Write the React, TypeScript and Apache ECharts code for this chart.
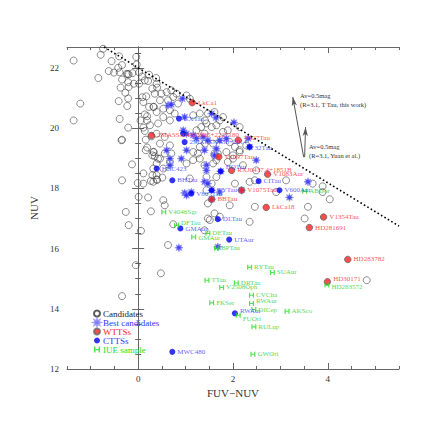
import React, { useEffect, useRef } from 'react';
import * as echarts from 'echarts';

const xMajorTicks = [0, 2, 4];
const xMinorTicks = [-1.5, -1, -0.5, 0, 0.5, 1, 1.5, 2, 2.5, 3, 3.5, 4, 4.5, 5, 5.5];
const yMajorTicks = [12, 14, 16, 18, 20, 22];

const candidates: number[][] = [
  [-1.36, 22.25], [-0.74, 22.64], [-0.79, 22.44], [-0.56, 22.23], [-0.40, 22.39], [-0.04, 22.37], [-0.03, 22.12],
  [-0.34, 22.10], [-0.42, 22.01], [-0.51, 21.85], [-0.62, 21.90], [-0.39, 21.86], [-0.24, 21.81], [-0.22, 21.80],
  [-0.20, 21.79], [-0.12, 21.83], [0.02, 21.86], [0.08, 21.72], [0.23, 21.78], [0.38, 21.67], [-0.84, 21.67],
  [-0.34, 21.62], [-0.21, 21.53], [-0.09, 21.48], [0.02, 21.48], [0.14, 21.59], [0.21, 21.57], [-0.37, 21.35],
  [-0.20, 21.37], [-0.27, 21.18], [-0.21, 20.99], [-0.41, 20.90], [0.09, 21.03], [0.17, 21.06], [0.11, 20.87],
  [0.35, 21.15], [0.39, 21.48], [-0.23, 20.74], [0.23, 20.71], [0.33, 20.71], [-1.22, 20.82], [0.14, 20.46],
  [0.19, 20.40], [-0.39, 20.31], [0.05, 20.26], [0.19, 20.26], [0.25, 20.10], [0.11, 20.02], [-0.21, 20.02],
  [-1.36, 20.26], [0.14, 19.91], [-0.34, 19.62], [0.16, 19.62], [0.19, 19.36], [0.28, 19.73],
  [0.30, 21.32], [0.40, 21.35], [0.49, 21.15], [0.60, 21.20], [0.70, 21.26], [0.46, 20.93], [0.63, 20.93],
  [0.74, 21.04], [0.81, 21.15], [1.02, 21.09], [1.09, 20.98], [0.84, 20.82], [0.32, 20.71], [0.39, 20.54],
  [0.53, 20.65], [0.67, 20.60], [0.77, 20.49], [0.53, 20.37], [0.67, 20.26], [0.42, 20.16], [1.16, 20.43],
  [1.30, 20.49], [1.41, 20.26], [1.47, 20.49], [1.79, 20.37], [1.23, 19.93], [1.33, 20.04], [1.89, 19.93],
  [2.14, 20.04], [0.39, 19.82], [0.56, 19.71], [0.46, 19.49], [0.67, 19.43], [1.30, 19.38], [1.41, 19.49],
  [1.93, 19.54], [2.04, 19.38], [2.14, 19.27], [0.32, 19.21], [0.70, 19.16], [1.16, 19.21], [1.61, 19.10],
  [2.28, 19.43],
  [-0.35, 19.60], [0.16, 19.27], [0.33, 19.21], [0.35, 19.07], [0.42, 18.99], [-0.13, 18.80], [0.32, 18.66],
  [0.11, 18.50], [0.30, 18.44], [-0.34, 18.27], [-0.01, 18.18], [0.11, 18.16], [0.27, 18.25], [0.39, 18.30],
  [0.40, 18.28], [0.01, 17.72], [0.21, 17.70], [-0.26, 17.22], [0.27, 17.24], [-0.20, 16.78], [0.06, 16.59],
  [0.30, 19.10], [0.46, 18.99], [0.56, 19.16], [0.39, 18.83], [0.53, 18.66], [0.39, 18.44], [0.32, 18.22],
  [0.51, 18.36], [0.67, 18.88], [1.02, 18.83], [1.16, 18.94], [1.30, 18.99], [1.26, 19.16], [1.40, 18.77],
  [1.58, 18.83], [1.65, 18.94], [1.89, 18.88], [2.00, 18.99], [1.09, 18.33], [2.04, 18.16], [2.35, 18.22],
  [0.53, 17.61], [0.56, 17.44], [1.47, 17.50], [1.93, 17.44], [1.61, 17.17], [0.74, 16.81], [1.51, 16.95],
  [1.40, 16.61], [2.35, 16.89],
  [1.61, 20.54], [1.44, 20.16], [1.55, 20.04], [1.65, 20.10], [1.72, 20.26], [1.79, 19.88], [1.40, 19.82],
  [1.58, 19.49], [1.61, 19.16], [1.68, 19.16], [1.86, 19.21], [2.14, 19.21], [2.00, 19.10], [2.21, 18.77],
  [2.49, 18.60], [2.46, 18.27], [3.12, 18.27], [2.91, 17.88], [3.68, 18.16], [3.89, 18.07], [3.89, 17.88],
  [4.04, 17.64], [3.58, 17.39], [3.51, 17.00], [1.44, 18.38], [1.65, 18.38], [1.55, 18.16], [1.44, 17.94],
  [2.46, 17.39], [1.47, 17.00], [1.72, 17.06],
  [-0.05, 15.45], [0.48, 15.18], [-0.34, 14.42], [0.63, 16.12], [4.82, 14.95],
];

const bestCandidates: number[][] = [
  [0.63, 20.76], [0.70, 20.79], [0.93, 20.98], [1.55, 20.49], [1.64, 20.35], [2.02, 20.19], [0.98, 20.37],
  [0.95, 19.93], [1.02, 19.82], [1.16, 19.77], [1.23, 19.66], [1.37, 19.71], [1.47, 19.60], [1.72, 19.60],
  [1.86, 19.66], [0.60, 19.27], [0.67, 18.99], [1.02, 19.27], [1.40, 19.27], [1.65, 19.32], [2.32, 19.66],
  [0.67, 18.77], [0.91, 18.99], [1.44, 18.77], [1.61, 19.10], [2.49, 18.94], [1.44, 18.60], [1.40, 18.22],
  [1.47, 18.16], [0.98, 17.85], [1.12, 17.88], [1.02, 17.77], [1.55, 17.94], [1.72, 17.88], [2.18, 17.94],
  [3.19, 17.70], [3.58, 18.22], [0.86, 16.03], [1.68, 16.06], [1.55, 17.64], [2.35, 19.38], [1.74, 18.57],
];

const wttsNames = [
  'LkCa1', '2MASSJ04333905+2227180', 'V827Tau', 'V1097Tau', 'RXJ0437.4+1851B', 'V1083Aur', 'V1075Tau',
  'BBTau', 'LkCa18', 'V1354Tau', 'HD281691', 'HD283782', 'HD30171',
];
const wttsPoints: number[][] = [
  [1.14, 20.85], [0.28, 19.76], [2.11, 19.60], [1.70, 19.05], [1.97, 18.60], [2.73, 18.47], [2.18, 17.94],
  [1.55, 17.64], [2.70, 17.37], [3.91, 17.05], [3.61, 16.70], [4.42, 15.64], [3.99, 14.90],
];

const cttsNames = [
  'CXTau', '', '2MASSJ0438+2014', '32Tau', 'HBC423', 'BHTau', 'HQTau', 'V807Tau', 'VYTau', 'CITau',
  'V600Aur', 'DLTau', 'GMAur', 'UTAur', 'RWAur', 'MWC480',
];
const cttsPoints: number[][] = [
  [0.86, 20.32], [0.95, 19.82], [0.98, 19.54], [2.35, 19.38], [0.39, 18.66], [0.72, 18.27], [1.74, 18.57],
  [1.12, 17.83], [1.55, 17.94], [2.54, 18.24], [2.98, 17.94], [1.68, 16.98], [0.89, 16.67], [1.92, 16.30],
  [2.04, 13.85], [0.72, 12.57],
];

const iueNames = [
  'V4046Sgr', 'DFTau', 'GMAur', 'DETau', 'BPTau', 'RYTau', 'SUAur', 'TTau', 'DRTau', 'V2508Oph', 'CVCha',
  'FKSer', 'RWAur', 'DICep', 'AKSco', 'FUOri', 'RULup', 'GWOri', 'HD283572', 'ABDor',
];
const iuePoints: number[][] = [
  [0.54, 17.22], [0.81, 16.78], [1.17, 16.39], [1.47, 16.51], [1.65, 16.01], [2.35, 15.38], [2.83, 15.21],
  [1.45, 14.95], [2.07, 14.86], [1.76, 14.71], [2.39, 14.45], [1.55, 14.20], [2.39, 14.18], [2.44, 13.98],
  [3.14, 13.92], [2.11, 13.79], [2.44, 13.40], [2.42, 12.49], [3.98, 14.79], [3.51, 17.91],
];

const limitLine: number[][] = [[-0.72, 22.7], [5.5, 16.75]];
const arrowThisWork: number[][] = [[3.49, 19.04], [3.26, 21.04]];
const arrowYuan: number[][] = [[3.51, 19.04], [3.53, 20.04]];

const STAR =
  'path://M5,0 L2.2,0.9 L3.54,3.54 L0.9,2.2 L0,5 L-0.9,2.2 L-3.54,3.54 L-2.2,0.9 L-5,0 L-2.2,-0.9 L-3.54,-3.54 L-0.9,-2.2 L0,-5 L0.9,-2.2 L3.54,-3.54 L2.2,-0.9 Z';
const HASH = 'path://M0,0h1.2v5h-1.2z M3.8,0h1.2v5h-1.2z M0,2h5v1.1h-5z';

const FONT = 'Liberation Serif';

export default function App() {
  const ref = useRef<HTMLDivElement>(null);
  useEffect(() => {
    const chart = echarts.init(ref.current!, null, { renderer: 'svg' });
    const lbl = (color: string) => ({
      show: true,
      position: 'right',
      distance: 2,
      formatter: '{b}',
      color,
      fontSize: 7,
      fontFamily: FONT,
    });
    const labelOffsets: Record<string, number[]> = {
      HD30171: [0, -3],
      HD283572: [0, 2],
      RWAur: [0, -2],
      FUOri: [0, 4],
      DICep: [0, 1],
      '32Tau': [0, 1],
      V827Tau: [0, -2],
      DFTau: [0, -2],
      GMAur: [0, 1],
      HQTau: [0, -4],
    };
    const items = (names: string[], pts: number[][]) =>
      pts.map((p, i) => {
        const n = names[i];
        const off = labelOffsets[n];
        return off ? { name: n, value: p, label: { offset: off } } : { name: n, value: p };
      });
    const axisLineStyle = { color: '#666', width: 1 };
    const xBase = { type: 'value', min: -1.5, max: 5.5, splitLine: { show: false } };
    const yBase = { type: 'value', min: 12, max: 22.7, splitLine: { show: false } };
    chart.setOption({
      animation: false,
      textStyle: { fontFamily: FONT },
      grid: { left: 67, top: 47, right: 37, bottom: 67 },
      xAxis: [
        {
          ...xBase,
          position: 'bottom',
          interval: 0.5,
          axisLine: { show: true, lineStyle: axisLineStyle },
          axisTick: { show: true, inside: true, length: 3, lineStyle: axisLineStyle },
          axisLabel: {
            formatter: (v: number) => (xMajorTicks.includes(v) ? String(v) : ''),
            color: '#333',
            fontSize: 9,
            fontFamily: FONT,
            margin: 5,
          },
          name: 'FUV\u2212NUV',
          nameLocation: 'middle',
          nameGap: 17,
          nameTextStyle: { color: '#333', fontSize: 11, fontFamily: FONT },
        },
        {
          ...xBase,
          position: 'bottom',
          axisLine: { show: false },
          axisTick: { show: true, inside: true, length: 6, customValues: xMajorTicks, lineStyle: axisLineStyle },
          axisLabel: { show: false },
        },
        {
          ...xBase,
          position: 'top',
          interval: 0.5,
          axisLine: { show: true, lineStyle: axisLineStyle },
          axisTick: { show: true, inside: true, length: 3, customValues: xMinorTicks, lineStyle: axisLineStyle },
          axisLabel: { show: false },
        },
        {
          ...xBase,
          position: 'top',
          axisLine: { show: false },
          axisTick: { show: true, inside: true, length: 6, customValues: xMajorTicks, lineStyle: axisLineStyle },
          axisLabel: { show: false },
        },
      ],
      yAxis: [
        {
          ...yBase,
          position: 'left',
          interval: 0.5,
          axisLine: { show: true, lineStyle: axisLineStyle },
          axisTick: { show: true, inside: true, length: 3, lineStyle: axisLineStyle },
          axisLabel: {
            formatter: (v: number) => (yMajorTicks.includes(v) ? String(v) : ''),
            color: '#333',
            fontSize: 9,
            fontFamily: FONT,
            margin: 8,
          },
          name: 'NUV',
          nameLocation: 'middle',
          nameGap: 23,
          nameTextStyle: { color: '#333', fontSize: 11, fontFamily: FONT },
        },
        {
          ...yBase,
          position: 'left',
          interval: 2,
          axisLine: { show: false },
          axisTick: { show: true, inside: true, length: 6, lineStyle: axisLineStyle },
          axisLabel: { show: false },
        },
        {
          ...yBase,
          position: 'right',
          interval: 0.5,
          axisLine: { show: true, lineStyle: axisLineStyle },
          axisTick: { show: true, inside: true, length: 3, lineStyle: axisLineStyle },
          axisLabel: { show: false },
        },
        {
          ...yBase,
          position: 'right',
          interval: 2,
          axisLine: { show: false },
          axisTick: { show: true, inside: true, length: 6, lineStyle: axisLineStyle },
          axisLabel: { show: false },
        },
      ],
      legend: {
        orient: 'vertical',
        left: 88,
        top: 304,
        itemGap: 0,
        itemWidth: 6,
        itemHeight: 6,
        textStyle: { fontSize: 9, fontFamily: FONT, lineHeight: 9, padding: [0, 0, 0, -2] },
        data: [
          { name: 'Candidates', textStyle: { color: '#222' } },
          { name: 'Best candidates', textStyle: { color: '#3333ff' } },
          { name: 'WTTSs', textStyle: { color: '#ff2222' } },
          { name: 'CTTSs', textStyle: { color: '#3333ff' } },
          { name: 'IUE sample', textStyle: { color: '#22dd22' } },
        ],
      },
      series: [
        {
          name: 'Candidates',
          type: 'scatter',
          symbol: 'circle',
          symbolSize: 7,
          itemStyle: { color: 'rgba(0,0,0,0)', borderColor: '#333', borderWidth: 0.7 },
          data: candidates,
          markLine: {
            silent: true,
            animation: false,
            label: { show: false },
            data: [
              [
                { coord: limitLine[0], symbol: 'none', lineStyle: { color: '#000', width: 1.6, type: [1.6, 2.4] } },
                { coord: limitLine[1], symbol: 'none' },
              ],
              [
                { coord: arrowThisWork[0], symbol: 'none', lineStyle: { color: '#555', width: 1, type: 'solid' } },
                { coord: arrowThisWork[1], symbol: 'arrow', symbolSize: [4, 9] },
              ],
              [
                { coord: arrowYuan[0], symbol: 'none', lineStyle: { color: '#555', width: 1, type: 'solid' } },
                { coord: arrowYuan[1], symbol: 'arrow', symbolSize: [4, 9] },
              ],
            ],
          },
        },
        {
          name: 'Best candidates',
          type: 'scatter',
          symbol: STAR,
          symbolSize: 8,
          itemStyle: { color: '#1a1aee', borderColor: '#8a8aff', borderWidth: 0.8 },
          data: bestCandidates,
        },
        {
          name: 'WTTSs',
          type: 'scatter',
          symbol: 'circle',
          symbolSize: 6.5,
          itemStyle: { color: '#ff2020', borderColor: '#666', borderWidth: 1 },
          label: lbl('#ff2222'),
          data: items(wttsNames, wttsPoints),
        },
        {
          name: 'CTTSs',
          type: 'scatter',
          symbol: 'circle',
          symbolSize: 6,
          itemStyle: { color: '#0000f0' },
          label: lbl('#3333ff'),
          data: items(cttsNames, cttsPoints),
        },
        {
          name: 'IUE sample',
          type: 'scatter',
          symbol: HASH,
          symbolSize: 5,
          itemStyle: { color: '#22dd22' },
          label: lbl('#22cc22'),
          data: items(iueNames, iuePoints),
        },
      ],
      graphic: [
        { type: 'text', left: 300, top: 92, style: { text: 'Av=0.5mag', fontSize: 6.5, fill: '#333', fontFamily: FONT } },
        { type: 'text', left: 300, top: 101, style: { text: '(R=3.1, T Tau, this work)', fontSize: 6.5, fill: '#333', fontFamily: FONT } },
        { type: 'text', left: 309, top: 143, style: { text: 'Av=0.5mag', fontSize: 6.5, fill: '#333', fontFamily: FONT } },
        { type: 'text', left: 309, top: 152, style: { text: '(R=3.1, Yuan et al.)', fontSize: 6.5, fill: '#333', fontFamily: FONT } },
      ],
    });
    return () => chart.dispose();
  }, []);
  return <div ref={ref} style={{ position: 'absolute', left: 0, top: 0, width: 436, height: 436 }} />;
}
